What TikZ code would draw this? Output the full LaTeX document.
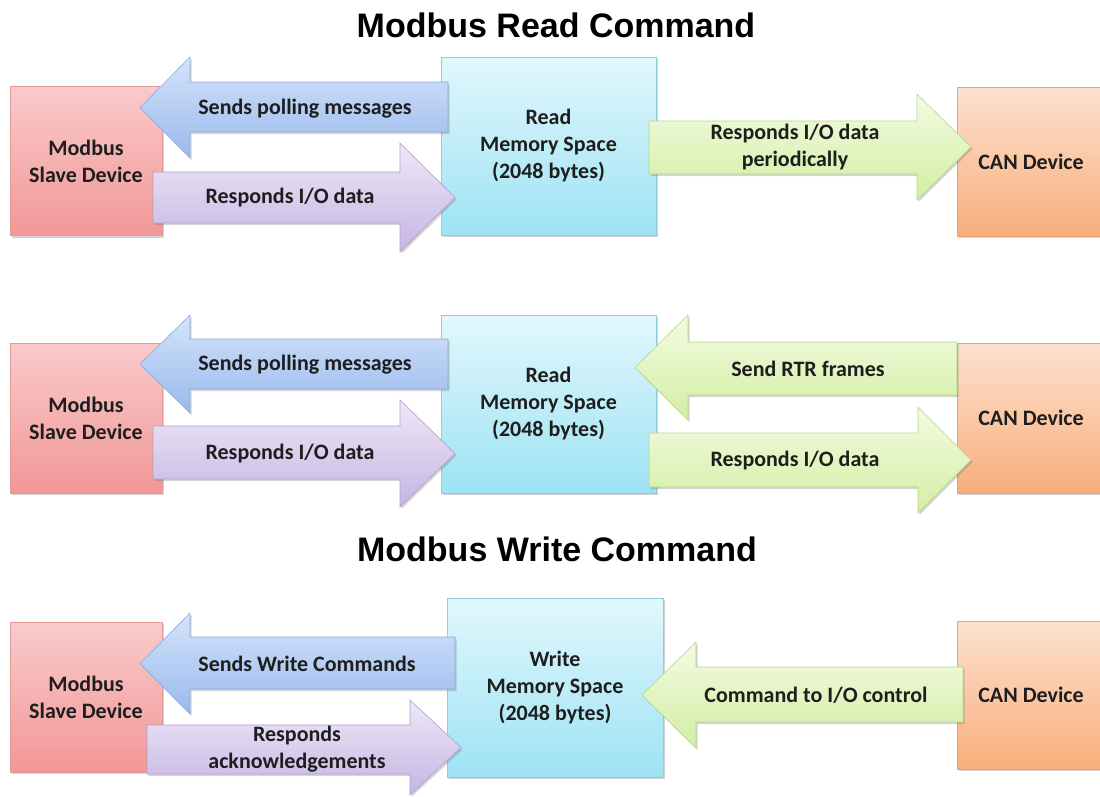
\documentclass[tikz,border=0pt]{standalone}
\usepackage{fontspec}
\setmainfont{Carlito}
\newfontfamily\titlefont{Liberation Sans}
\usetikzlibrary{shadows}
\definecolor{txt}{HTML}{1E1E1E}
\definecolor{slaveT}{HTML}{F9CACA}\definecolor{slaveB}{HTML}{F29797}\definecolor{slaveD}{HTML}{E39A9A}
\definecolor{memT}{HTML}{E2F7FC}\definecolor{memB}{HTML}{9DE3F4}\definecolor{memD}{HTML}{8FCDDD}
\definecolor{canT}{HTML}{FDE2CF}\definecolor{canB}{HTML}{F8AD7B}\definecolor{canD}{HTML}{E8A274}
\definecolor{bluT}{HTML}{D4E4FB}\definecolor{bluB}{HTML}{99B9EC}\definecolor{bluD}{HTML}{8DABDD}
\definecolor{purT}{HTML}{EFE8F8}\definecolor{purB}{HTML}{C5B5E2}\definecolor{purD}{HTML}{AE9FCF}
\definecolor{grnT}{HTML}{F3FBE2}\definecolor{grnB}{HTML}{D3EEA3}\definecolor{grnD}{HTML}{B6D58E}
\newcommand{\BlockArrow}[8]{% style, tail x, head base x, tip x, shaft top, shaft bottom, head top, head bottom
  \path[#1] (#2,#5) -- (#3,#5) -- (#3,#7) -- (#4,{(#7+#8)/2}) -- (#3,#8) -- (#3,#6) -- (#2,#6) -- cycle;}
\begin{document}
\begin{tikzpicture}[x=1pt,y=-1pt,
  softshadow/.style={drop shadow={shadow xshift=1.5pt,shadow yshift=-2pt,opacity=.28,fill=black!60}},
  box/.style={rectangle,softshadow,line width=0.6pt,align=center,text=txt,inner sep=0pt,
    font=\bfseries\fontsize{22}{27}\selectfont},
  slavebox/.style={box,top color=slaveT,bottom color=slaveB,draw=slaveD,minimum width=152pt,minimum height=149pt},
  membox/.style={box,top color=memT,bottom color=memB,draw=memD,minimum height=178pt},
  canbox/.style={box,top color=canT,bottom color=canB,draw=canD,minimum width=148pt},
  arr/.style={softshadow,line width=0.6pt},
  bluearr/.style={arr,top color=bluT,bottom color=bluB,draw=bluD},
  purarr/.style={arr,top color=purT,bottom color=purB,draw=purD},
  grnarr/.style={arr,top color=grnT,bottom color=grnB,draw=grnD},
  lbl/.style={align=center,text=txt,inner sep=0pt,font=\bfseries\fontsize{22}{27}\selectfont},
  titletext/.style={anchor=base,text=black,inner sep=0pt,font=\titlefont\bfseries\fontsize{34}{40}\selectfont}]
\useasboundingbox (0,0) rectangle (1100,796);

% titles
\node[titletext] (t1) at (556,37) {Modbus Read Command};
\node[titletext] (t2) at (557,561) {Modbus Write Command};

% ---------- row 1 ----------
\node[slavebox] (s1) at (86,161) {Modbus\\Slave Device};
\node[membox,minimum width=215pt] (m1) at (548.5,146) {Read\\Memory Space\\(2048 bytes)};
\node[canbox,minimum height=149pt] (c1) at (1031,161.5) {CAN Device};
\BlockArrow{bluearr}{448}{190}{140}{82}{132}{57}{158}
\BlockArrow{purarr}{153}{400}{455}{172}{223}{143}{252}
\BlockArrow{grnarr}{649}{917}{971}{121}{174}{94}{200}
\node[lbl] (a11) at (305,109) {Sends polling messages};
\node[lbl] (a12) at (290,198) {Responds I/O data};
\node[lbl] (a13) at (795,147) {Responds I/O data\\periodically};

% ---------- row 2 ----------
\node[slavebox,minimum height=150pt] (s2) at (86,418) {Modbus\\Slave Device};
\node[membox,minimum width=215pt] (m2) at (548.5,404) {Read\\Memory Space\\(2048 bytes)};
\node[canbox,minimum height=150pt] (c2) at (1031,418) {CAN Device};
\BlockArrow{bluearr}{448}{190}{140}{339}{389}{315}{413}
\BlockArrow{purarr}{153}{400}{455}{426}{479}{400}{507}
\BlockArrow{grnarr}{957}{688}{635}{342}{395}{315}{420}
\BlockArrow{grnarr}{649}{918}{971}{433}{487}{407}{513}
\node[lbl] (a21) at (305,365) {Sends polling messages};
\node[lbl] (a22) at (290,454) {Responds I/O data};
\node[lbl] (a23) at (808,369) {Send RTR frames};
\node[lbl] (a24) at (795,461) {Responds I/O data};

% ---------- row 3 ----------
\node[slavebox,minimum height=150pt] (s3) at (86,697) {Modbus\\Slave Device};
\node[membox,minimum width=216pt,minimum height=179pt] (m3) at (555,687.5) {Write\\Memory Space\\(2048 bytes)};
\node[canbox,minimum height=148pt] (c3) at (1031,695) {CAN Device};
\BlockArrow{bluearr}{455}{190}{140}{637}{689}{613}{714}
\BlockArrow{purarr}{147}{410}{461}{725}{774}{700}{795}
\BlockArrow{grnarr}{963}{696}{642}{667}{722}{642}{748}
\node[lbl] (a31) at (307,664) {Sends Write Commands};
\node[lbl] (a32) at (297,749) {Responds\\acknowledgements};
\node[lbl] (a33) at (816,695) {Command to I/O control};
\end{tikzpicture}
\end{document}
